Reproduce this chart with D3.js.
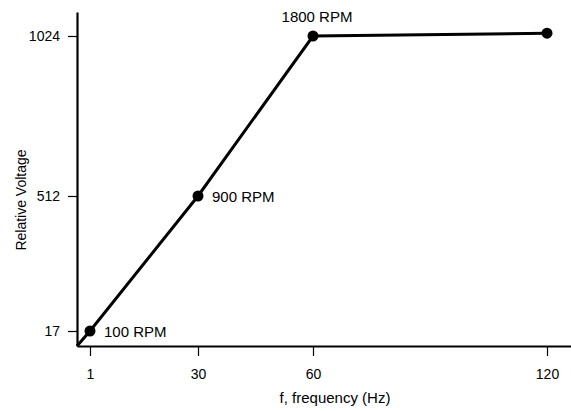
<!DOCTYPE html>
<html>
<head>
<meta charset="utf-8">
<script src="https://cdn.jsdelivr.net/npm/d3@7"></script>
<style>
  body { margin: 0; background: #fff; }
  text { font-family: "Liberation Sans", Arial, sans-serif; fill: #000; }
</style>
</head>
<body>
<div id="chart"></div>
<script>
// data
const freqs = [0, 1, 30, 60, 120];
const volts = [0, 17, 512, 1024, 1034];
const pointLabels = [null, "100 RPM", "900 RPM", "1800 RPM", null];
const xTicks = [1, 30, 60, 120];
const yTicks = [17, 512, 1024];

const width = 571, height = 411;

const svg = d3.select("#chart").append("svg")
  .attr("width", width)
  .attr("height", height);

// the original axes are schematic, not evenly spaced
const x = d3.scaleLinear()
  .domain([0, 1, 30, 60, 120, 126])
  .range([77, 90, 198, 313, 547, 571]);

const y = d3.scaleLinear()
  .domain([0, 17, 512, 1024, 1110])
  .range([346, 331, 196, 36, 12]);

// x axis
const xAxis = svg.append("g")
  .attr("transform", `translate(0,${y(0)})`)
  .call(d3.axisBottom(x).tickValues(xTicks).tickFormat(d3.format("d"))
    .tickSize(10).tickPadding(13).tickSizeOuter(0));
xAxis.select(".domain").attr("stroke-width", 2.2);
xAxis.selectAll(".tick line").attr("stroke-width", 1.2);
xAxis.selectAll("text").style("font-size", "14px");

// y axis
const yAxis = svg.append("g")
  .attr("transform", `translate(${x(0)},0)`)
  .call(d3.axisLeft(y).tickValues(yTicks).tickFormat(d3.format("d"))
    .tickSize(9).tickPadding(8).tickSizeOuter(0));
yAxis.select(".domain").attr("stroke-width", 2.2);
yAxis.selectAll(".tick line").attr("stroke-width", 1.2);
yAxis.selectAll("text").style("font-size", "14px");

// line
const line = d3.line()
  .x((d, i) => x(freqs[i]))
  .y((d, i) => y(volts[i]));

svg.append("path")
  .datum(volts)
  .attr("d", line)
  .attr("fill", "none")
  .attr("stroke", "#000")
  .attr("stroke-width", 3);

// points
const pts = freqs.map((f, i) => ({ f: f, v: volts[i], label: pointLabels[i] })).slice(1);

svg.selectAll(".pt")
  .data(pts)
  .enter()
  .append("circle")
  .attr("cx", d => x(d.f))
  .attr("cy", d => y(d.v))
  .attr("r", 5.5)
  .attr("fill", "#000");

// point labels
svg.selectAll(".lbl")
  .data(pts.filter(d => d.label))
  .enter()
  .append("text")
  .attr("x", d => d.f === 60 ? x(d.f) + 4 : x(d.f) + 14)
  .attr("y", d => d.f === 60 ? y(d.v) - 14 : y(d.v) + 6)
  .attr("text-anchor", d => d.f === 60 ? "middle" : "start")
  .style("font-size", "15px")
  .text(d => d.label);

// axis titles
svg.append("text")
  .attr("x", 335)
  .attr("y", 403)
  .attr("text-anchor", "middle")
  .style("font-size", "15px")
  .text("f, frequency (Hz)");

svg.append("text")
  .attr("transform", "translate(26,200) rotate(-90)")
  .attr("text-anchor", "middle")
  .style("font-size", "14px")
  .text("Relative Voltage");
</script>
</body>
</html>
